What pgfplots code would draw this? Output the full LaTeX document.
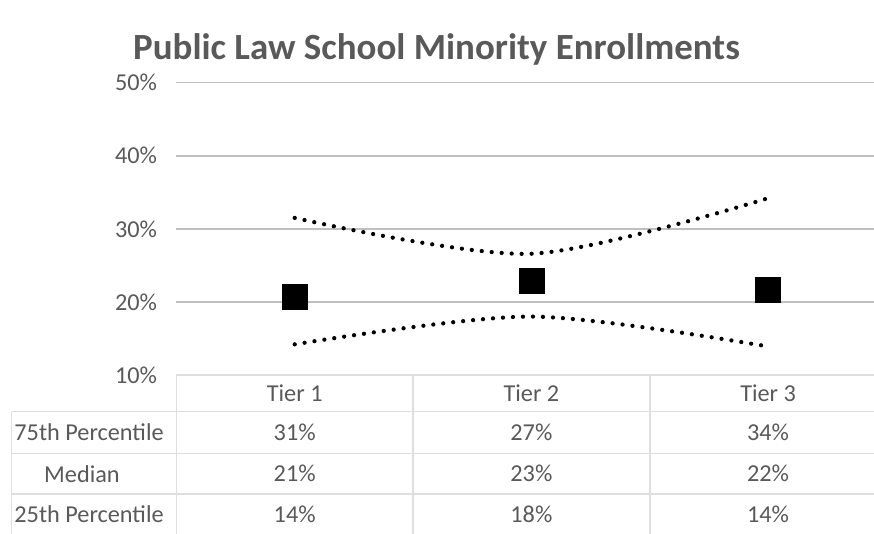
\documentclass[border=0pt]{standalone}
\usepackage{fontspec}
\setmainfont{Carlito}
\usepackage{pgfplots}
\pgfplotsset{compat=1.18}
\definecolor{txt}{HTML}{595959}
\definecolor{grid}{HTML}{DEDEDE}
\begin{document}
\begin{tikzpicture}
\begin{axis}[
    at={(132.3pt,-281.25pt)}, anchor=south west,
    width=532.5pt, height=219.2pt, scale only axis,
    clip=false,
    xmin=0.5, xmax=3.5, ymin=10, ymax=50,
    xtick=\empty,
    ytick={10,20,30,40,50},
    yticklabel={\pgfmathprintnumber{\tick}\%},
    /pgf/number format/assume math mode=true,
    yticklabel style={font=\fontsize{18.2}{20}\selectfont, text=txt, anchor=east, xshift=-11pt},
    ymajorgrids, grid style={grid, line width=1.1pt},
    major tick length=0pt,
    axis line style={draw=none},
]
% 75th percentile
\addplot[black, smooth, line width=3.2pt, line cap=round, dash pattern=on 0pt off 7.5pt]
  coordinates {(1,31.5) (2,26.6) (3,34.2)};
% 25th percentile
\addplot[black, smooth, line width=3.2pt, line cap=round, dash pattern=on 0pt off 7.5pt]
  coordinates {(1,14.2) (2,18.0) (3,13.9)};
% median
\addplot[only marks, mark=square*, mark size=9.3pt, black]
  coordinates {(1,20.7) (2,22.9) (3,21.7)};
\end{axis}
\begin{scope}[x=0.75pt, y=-0.75pt]
  \node[font=\fontsize{27.7}{32}\selectfont\bfseries, text=txt, anchor=base] at (436.5,59) {Public Law School Minority Enrollments};
  % table grid
  \begin{scope}[draw=grid, line width=1.1pt]
    \draw (176.4,375) -- (900,375);
    \foreach \yy in {411.7,453.3,494,535} \draw (11.7,\yy) -- (900,\yy);
    \draw (11.7,411.7) -- (11.7,540);
    \foreach \xx in {176.4,413.1,649.8} \draw (\xx,375) -- (\xx,540);
  \end{scope}
  \begin{scope}[font=\fontsize{18.2}{20}\selectfont, text=txt]
    \node at (294.7,393) {Tier 1};
    \node at (531.4,393) {Tier 2};
    \node at (768.1,393) {Tier 3};
    \node at (89,432.5) {75th Percentile};
    \node at (82,473.7) {Median};
    \node at (89,514.5) {25th Percentile};
    \node at (294.7,432.5) {31\%};
    \node at (531.4,432.5) {27\%};
    \node at (768.1,432.5) {34\%};
    \node at (294.7,473.7) {21\%};
    \node at (531.4,473.7) {23\%};
    \node at (768.1,473.7) {22\%};
    \node at (294.7,514.5) {14\%};
    \node at (531.4,514.5) {18\%};
    \node at (768.1,514.5) {14\%};
  \end{scope}
  \pgfresetboundingbox
  \useasboundingbox (0,0) rectangle (874,533);
\end{scope}
\end{tikzpicture}
\end{document}
